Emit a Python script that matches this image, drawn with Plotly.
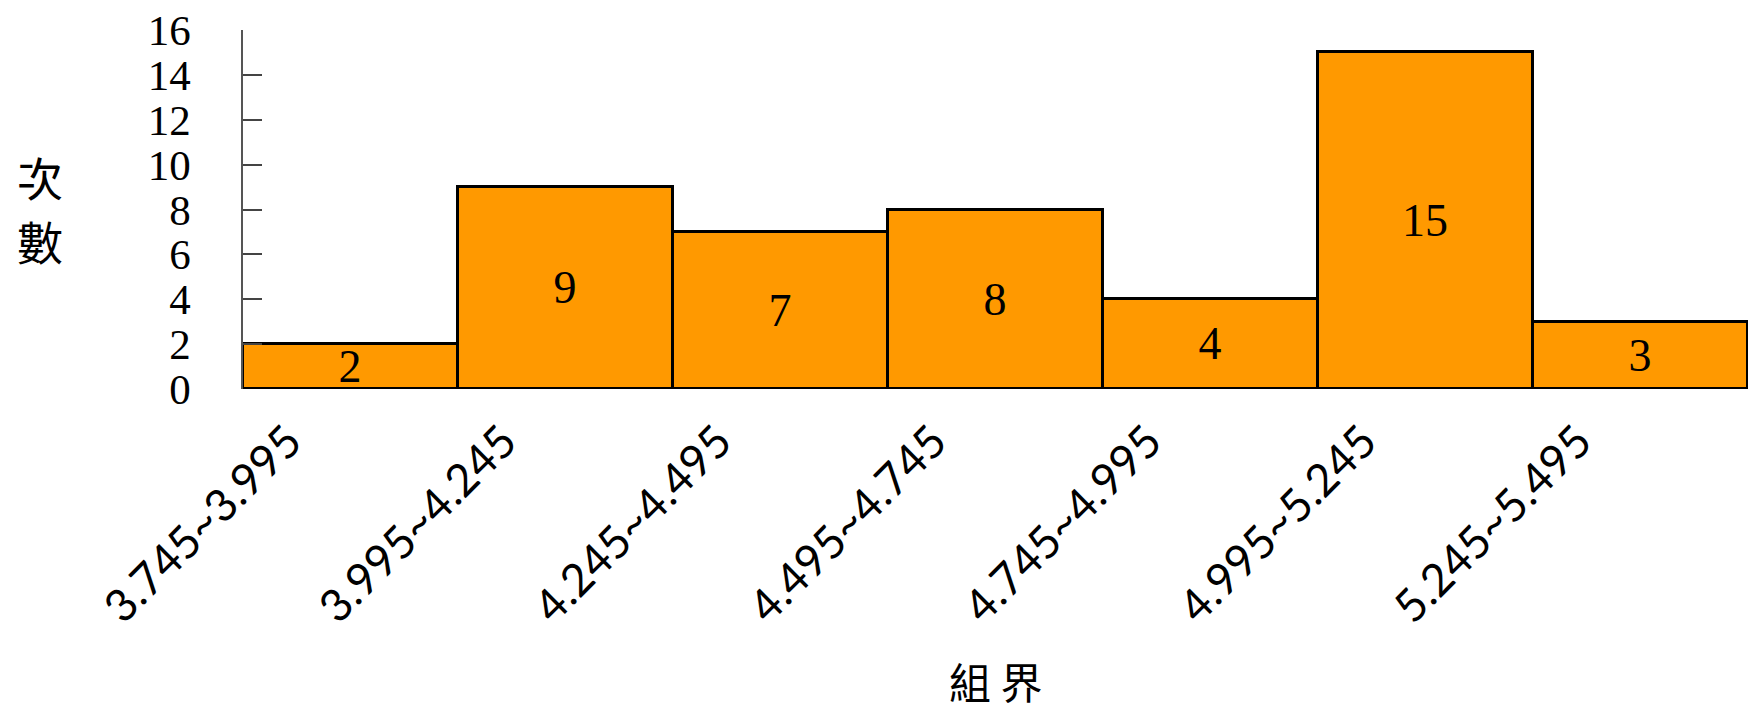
import plotly.graph_objects as go

categories = ["3.745~3.995", "3.995~4.245", "4.245~4.495", "4.495~4.745",
              "4.745~4.995", "4.995~5.245", "5.245~5.495"]
counts = [2, 9, 7, 8, 4, 15, 3]
y_ticks = [0, 2, 4, 6, 8, 10, 12, 14, 16]

serif = "Liberation Serif, Times New Roman, serif"
cjk = "Noto Sans CJK TC"

fig = go.Figure(go.Bar(
    x=categories, y=counts,
    text=[str(c) for c in counts],
    textposition="inside",
    insidetextanchor="middle",
    textangle=0,
    constraintext="none",
    textfont=dict(family=serif, size=46, color="black"),
    marker=dict(color="#FF9900", line=dict(color="black", width=3)),
    width=1.0,
))

fig.update_layout(
    width=1755, height=711,
    margin=dict(l=243, r=7, t=26, b=322),
    paper_bgcolor="white", plot_bgcolor="white",
    bargap=0,
    showlegend=False,
    uniformtext=dict(minsize=46, mode="show"),
    xaxis=dict(
        type="category",
        range=[-0.5, 6.5],
        showline=False, showgrid=False, zeroline=False,
        ticks="",
        tickangle=-45,
        tickfont=dict(family="Lato, Open Sans, sans-serif", size=45, color="black"),
        ticklabelstandoff=16,
        ticklabelshift=-62,
    ),
    yaxis=dict(
        range=[0, 16],
        tickvals=y_ticks,
        showgrid=False, zeroline=False,
        showline=True, linecolor="#555555", linewidth=1.5,
        ticks="inside", ticklen=19, tickwidth=1.5, tickcolor="#444444",
        tickfont=dict(family=serif, size=43, color="black"),
        ticklabelstandoff=42,
    ),
    annotations=[
        dict(text="次", xref="paper", yref="paper",
             x=-0.135, y=(389 - 174) / 363, showarrow=False,
             xanchor="center", yanchor="middle",
             font=dict(family=cjk, size=46, color="black")),
        dict(text="數", xref="paper", yref="paper",
             x=-0.135, y=(389 - 238) / 363, showarrow=False,
             xanchor="center", yanchor="middle",
             font=dict(family=cjk, size=46, color="black")),
        dict(text="組 界", xref="paper", yref="paper",
             x=0.5, y=-0.885, showarrow=False, xanchor="center", yanchor="bottom",
             yshift=-6,
             font=dict(family=cjk, size=42, color="black")),
    ],
)

fig.write_html("out.html")
